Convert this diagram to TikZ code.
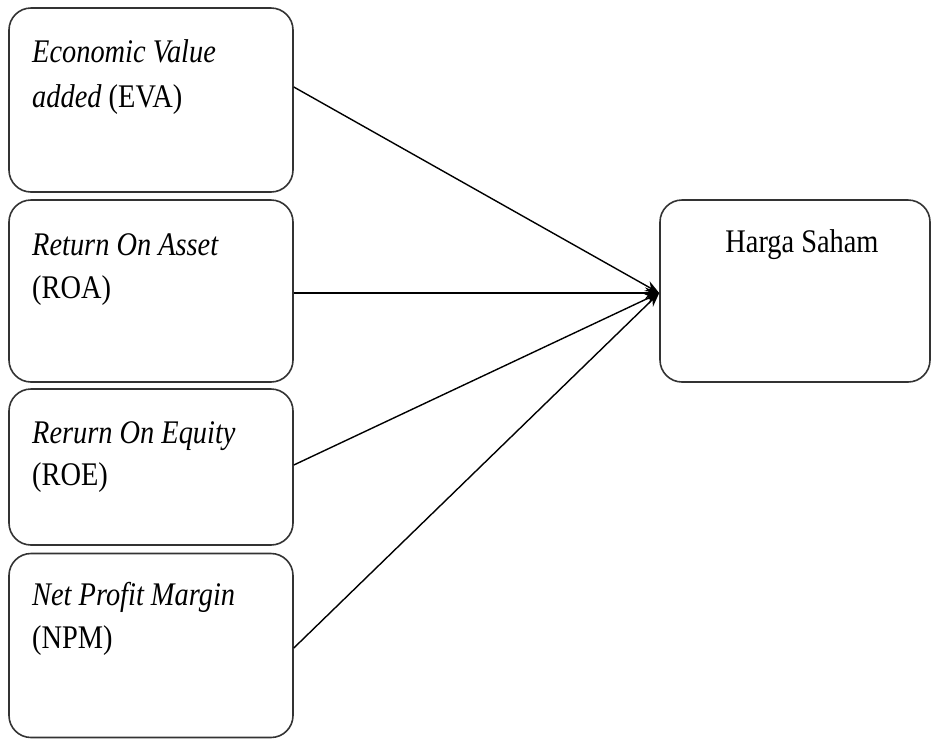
\documentclass[tikz,border=0pt]{standalone}
\usepackage{fontspec}
\setmainfont{Liberation Serif}[FakeStretch=0.86]
\usetikzlibrary{arrows.meta}
\begin{document}
\begin{tikzpicture}[x=1pt,y=-1pt,
  box/.style={draw=black!80, line width=1.6pt, rounded corners=22pt, fill=white, inner sep=0pt},
  lbl/.style={inner sep=0pt, font=\fontsize{33}{44}\selectfont},
  conn/.style={line width=1.4pt, -{Stealth[length=14pt,width=11pt]}}]
\useasboundingbox (0,0) rectangle (931,740);
% boxes
\node[box, minimum width=284pt, minimum height=184pt] (eva) at (151,100) {};
\node[box, minimum width=284pt, minimum height=182pt] (roa) at (151,291) {};
\node[box, minimum width=284pt, minimum height=156pt] (roe) at (151,467) {};
\node[box, minimum width=284pt, minimum height=184pt] (npm) at (151,645.5) {};
\node[box, minimum width=270pt, minimum height=182pt] (hs) at (795,291) {};
% texts
\node[lbl, anchor=base west] (t1a) at (32,62) {\textit{Economic Value}};
\node[lbl, anchor=base west] (t1b) at (32,107) {\textit{added} (EVA)};
\node[lbl, anchor=base west] (t2a) at (32,255) {\textit{Return On Asset}};
\node[lbl, anchor=base west] (t2b) at (32,298) {(ROA)};
\node[lbl, anchor=base west] (t3a) at (32,443) {\textit{Rerurn On Equity}};
\node[lbl, anchor=base west] (t3b) at (32,485) {(ROE)};
\node[lbl, anchor=base west] (t4a) at (32,605) {\textit{Net Profit Margin}};
\node[lbl, anchor=base west] (t4b) at (32,648) {(NPM)};
\node[lbl, anchor=base] (t5) at (802,252) {Harga Saham};
% connectors
\coordinate (tip) at ([yshift=-2pt]hs.west);
\draw[conn] ([yshift=13pt]eva.east) -- (tip);
\draw[conn] ([yshift=-2pt]roa.east) -- (tip);
\draw[conn] ([yshift=2pt]roe.east) -- (tip);
\draw[conn] ([yshift=-2.5pt]npm.east) -- (tip);
\end{tikzpicture}
\end{document}
